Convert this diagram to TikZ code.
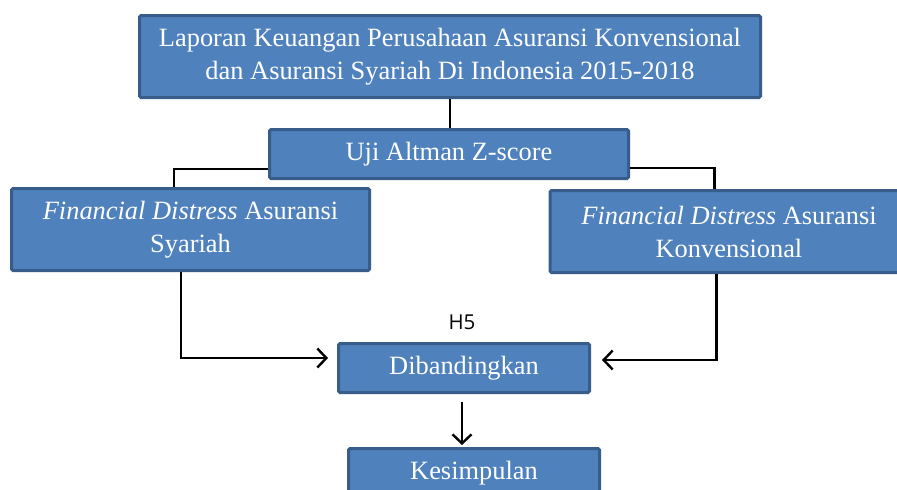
\documentclass[tikz,border=0pt]{standalone}
\usepackage{fontspec}
\setmainfont{Liberation Serif}
\newfontfamily\hlabelfont{Open Sans}
\usetikzlibrary{calc}
\usetikzlibrary{arrows.meta}
\definecolor{box-blue}{HTML}{4F81BD}
\definecolor{box-border}{HTML}{385D8A}
\tikzstyle{flowbox}=[draw=box-border, fill=box-blue, line width=3pt, rounded corners=1.5pt, text=white, align=center, inner sep=0pt, font=\fontsize{26.4}{33}\selectfont]
\tikzstyle{link}=[black, line width=2.4pt]
\tikzstyle{linkarrow}=[link, -{Straight Barb[length=9pt,width=19pt]}]

\begin{document}
\begin{tikzpicture}[x=1pt, y=-1pt]
	\useasboundingbox (0,0) rectangle (897,490);
	\clip (0,0) rectangle (897,490);
	% boxes
	\node[flowbox, minimum width=621pt, minimum height=82pt] (laporan) at (450,56.5) {Laporan Keuangan Perusahaan Asuransi Konvensional\\dan Asuransi Syariah Di Indonesia 2015-2018};
	\node[flowbox, minimum width=359pt, minimum height=49pt] (uji) at (449,154) {Uji Altman Z-score};
	\node[flowbox, minimum width=358pt, minimum height=82pt] (syariah) at (190.5,229.5) {\textit{Financial Distress} Asuransi\\Syariah};
	\node[flowbox, minimum width=358pt, minimum height=82pt] (konven) at (729,231.5) {\textit{Financial Distress} Asuransi\\Konvensional};
	\node[flowbox, minimum width=251pt, minimum height=49pt] (banding) at (464,368) {Dibandingkan};
	\node[flowbox, minimum width=251pt, minimum height=49pt] (simpul) at (474,473) {Kesimpulan};
	% label above the comparison
	\node[font=\hlabelfont\fontsize{20.5}{24}\selectfont] (h5) at (462,322) {H5};
	% connectors
	\draw[link] (laporan.south) -- (laporan.south |- uji.north);
	\draw[link] ([yshift=11pt]uji.south west) -| ([xshift=164pt]syariah.north west);
	\draw[link] ([yshift=12pt]uji.south east) -| ([xshift=166pt]konven.north west);
	\draw[linkarrow] ([xshift=171pt]syariah.south west) |- ([xshift=-9pt,yshift=10pt]banding.west);
	\draw[linkarrow] ([xshift=168pt]konven.south west) |- ([xshift=11pt,yshift=8pt]banding.east);
	\draw[linkarrow] ($(banding.south)+(-2,8)$) -- ($(banding.south |- simpul.north)+(-2,-2)$);
\end{tikzpicture}
\end{document}
